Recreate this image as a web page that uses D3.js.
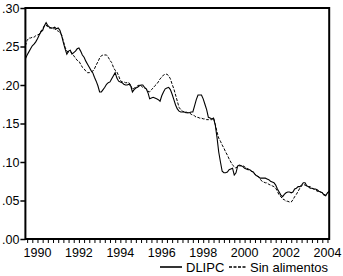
<!DOCTYPE html>
<html><head><meta charset="utf-8">
<script src="https://cdn.jsdelivr.net/npm/d3@7"></script>
<style>html,body{margin:0;padding:0;background:#fff;}svg{display:block;}</style>
</head><body>
<svg id="c" width="343" height="276"></svg>
<script>
// Monthly data, first observation 1989-06, last 2004-02
const startYear = 1989, startMonth = 6;
const dlipc = [
.234,.239,.243,.247,.251,.253,.256,.260,.265,.269,.271,.277,.281,.277,.275,.274,.274,.275,.273,.274,
.271,.264,.255,.247,.240,.244,.245,.240,.242,.244,.247,.248,.244,.239,.236,.231,.227,.223,.219,.216,
.210,.205,.199,.191,.191,.194,.197,.201,.203,.204,.208,.212,.216,.209,.205,.204,.203,.201,.200,.200,
.201,.199,.191,.194,.196,.197,.199,.200,.200,.197,.195,.190,.182,.183,.184,.183,.182,.181,.179,.186,
.191,.195,.196,.197,.194,.188,.181,.174,.169,.166,.165,.165,.165,.164,.164,.164,.165,.165,.173,.181,
.187,.187,.187,.182,.175,.168,.158,.157,.156,.157,.148,.132,.113,.100,.088,.086,.086,.087,.090,.091,
.092,.083,.086,.095,.096,.095,.094,.092,.091,.090,.090,.088,.087,.084,.082,.081,.079,.079,.079,.079,
.078,.077,.075,.074,.073,.070,.065,.061,.057,.055,.058,.060,.061,.061,.060,.061,.065,.066,.068,.068,
.070,.073,.073,.069,.068,.066,.066,.065,.065,.064,.062,.061,.060,.057,.056,.060,.062];
const sinAlimentos = [
.251,.258,.261,.261,.262,.262,.264,.265,.266,.270,.273,.277,.278,.275,.274,.274,.273,.273,.271,.270,
.268,.265,.257,.249,.244,.243,.243,.242,.238,.235,.232,.231,.227,.223,.221,.218,.216,.216,.217,.218,
.221,.226,.230,.235,.238,.239,.239,.239,.236,.232,.229,.223,.219,.217,.212,.206,.204,.204,.203,.203,
.203,.200,.194,.196,.197,.199,.200,.199,.197,.196,.195,.192,.191,.194,.196,.199,.201,.204,.208,.210,
.213,.214,.214,.212,.208,.201,.195,.187,.179,.171,.168,.166,.165,.165,.164,.164,.162,.161,.160,.158,
.158,.157,.157,.156,.156,.155,.155,.155,.155,.157,.149,.139,.131,.127,.122,.118,.113,.109,.104,.100,
.096,.094,.092,.095,.095,.095,.095,.094,.092,.091,.090,.088,.087,.084,.082,.081,.078,.075,.074,.073,
.073,.071,.070,.069,.068,.066,.062,.057,.055,.052,.051,.049,.049,.048,.048,.051,.055,.058,.062,.066,
.069,.071,.070,.069,.068,.068,.066,.065,.064,.062,.062,.061,.060,.058,.057,.060,.062];
const yearLabels = ["1990","1992","1994","1996","1998","2000","2002","2004"];
const yTickValues = [0, .05, .10, .15, .20, .25, .30];
const seriesNames = ["DLIPC", "Sin alimentos"];

const svg = d3.select("#c");
const L = 25.4, R = 329.2, T = 8, B = 239;
const n = dlipc.length;
const x = d3.scaleLinear().domain([0, n - 1]).range([L, R]);
const y = d3.scaleLinear().domain([0, 0.30]).range([B, T]);
const font = "'Liberation Sans', Arial, Helvetica, sans-serif";

// month index for a given year (January)
const idxOfYear = yr => (yr - startYear) * 12 + (1 - startMonth);

// frame
svg.append("rect").attr("x", L).attr("y", T).attr("width", R - L).attr("height", B - T)
  .attr("fill", "none").attr("stroke", "#000").attr("stroke-width", 2);

// y axis
const yAxis = d3.axisLeft(y).tickValues(yTickValues).tickSize(5).tickPadding(1)
  .tickFormat(d => d3.format(".2f")(d).replace(/^0/, ""));
const gy = svg.append("g").attr("transform", `translate(${L},0)`).call(yAxis);
gy.select(".domain").remove();
gy.selectAll("line").attr("stroke", "#000").attr("stroke-width", 1.5);
gy.selectAll("text").attr("font-family", font).attr("font-size", 12.5).attr("fill", "#000");

// x axis: quarterly ticks, labels every two years
const qTicks = d3.range(0, n).filter(i => (((startMonth - 1 + i) % 12) % 3) === 0);
const xAxis = d3.axisBottom(x).tickValues(qTicks).tickSize(4).tickFormat("");
const gx = svg.append("g").attr("transform", `translate(0,${B})`).call(xAxis);
gx.select(".domain").remove();
gx.selectAll("line").attr("stroke", "#000").attr("stroke-width", 1);
svg.append("g").selectAll("text").data(yearLabels).join("text")
  .attr("x", d => x(idxOfYear(+d))).attr("y", 257)
  .attr("text-anchor", "middle").attr("font-family", font).attr("font-size", 12.5)
  .text(d => d);

// lines
const line = d3.line().x((d, i) => x(i)).y(d => y(d));
svg.append("path").datum(sinAlimentos).attr("d", line).attr("fill", "none")
  .attr("stroke", "#000").attr("stroke-width", 1).attr("stroke-dasharray", "3,1.5");
svg.append("path").datum(dlipc).attr("d", line).attr("fill", "none")
  .attr("stroke", "#000").attr("stroke-width", 1.1);

// legend
const lg = svg.append("g");
lg.append("line").attr("x1", 160).attr("x2", 182).attr("y1", 267).attr("y2", 267)
  .attr("stroke", "#000").attr("stroke-width", 1.6);
lg.append("text").attr("x", 186).attr("y", 272).attr("font-family", font).attr("font-size", 13).text(seriesNames[0]);
lg.append("line").attr("x1", 229).attr("x2", 247).attr("y1", 267).attr("y2", 267)
  .attr("stroke", "#000").attr("stroke-width", 1.6).attr("stroke-dasharray", "3,1.5");
lg.append("text").attr("x", 250).attr("y", 272).attr("font-family", font).attr("font-size", 13).text(seriesNames[1]);
</script>
</body></html>
